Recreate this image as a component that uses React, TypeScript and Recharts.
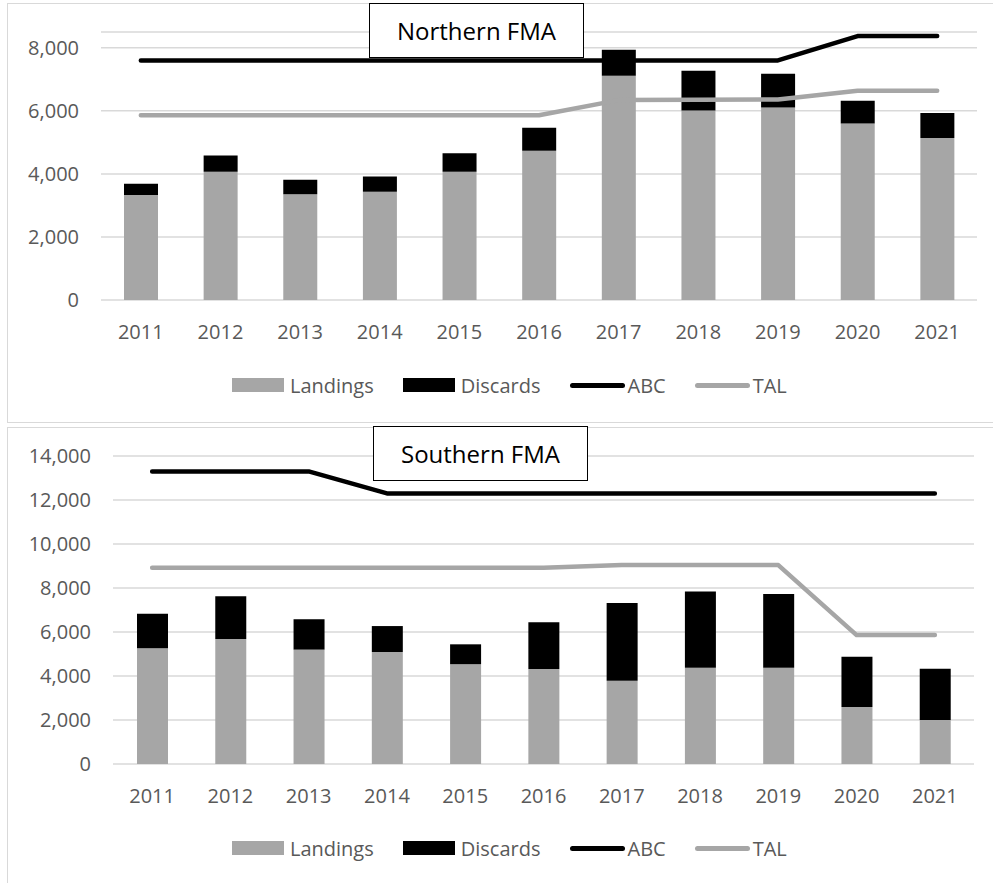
import React from "react";
import {
  Bar,
  CartesianGrid,
  ComposedChart,
  Legend,
  Line,
  XAxis,
  YAxis,
} from "recharts";

const years = ["2011", "2012", "2013", "2014", "2015", "2016", "2017", "2018", "2019", "2020", "2021"];

// Northern FMA
const northLandings = [3330, 4070, 3355, 3430, 4070, 4730, 7110, 6010, 6105, 5600, 5135];
const northDiscards = [360, 510, 455, 485, 585, 730, 825, 1260, 1070, 720, 795];
const northAbc = [7600, 7600, 7600, 7600, 7600, 7600, 7600, 7600, 7600, 8370, 8370];
const northTal = [5860, 5860, 5860, 5860, 5860, 5860, 6340, 6350, 6360, 6640, 6640];
const northTicks = [0, 2000, 4000, 6000, 8000];

// Southern FMA
const southLandings = [5260, 5680, 5200, 5090, 4540, 4320, 3780, 4380, 4370, 2590, 2000];
const southDiscards = [1570, 1950, 1380, 1180, 900, 2120, 3540, 3465, 3355, 2280, 2330];
const southAbc = [13300, 13300, 13300, 12300, 12300, 12300, 12300, 12300, 12300, 12300, 12300];
const southTal = [8920, 8920, 8920, 8920, 8920, 8920, 9040, 9040, 9040, 5860, 5860];
const southTicks = [0, 2000, 4000, 6000, 8000, 10000, 12000, 14000];

const legendOrder = ["Landings", "Discards", "ABC", "TAL"];

const FONT = "'Open Sans', 'Noto Sans', sans-serif";
const TEXT = "#595959";
const GRID = "#D9D9D9";
const GREY = "#A6A6A6";

function buildRows(landings: number[], discards: number[], abc: number[], tal: number[]) {
  return years.map((year, i) => ({
    year,
    landings: landings[i],
    discards: discards[i],
    abc: abc[i],
    tal: tal[i],
  }));
}

// eslint-disable-next-line @typescript-eslint/no-explicit-any
function LegendContent(props: any) {
  // eslint-disable-next-line @typescript-eslint/no-explicit-any
  const items = [...(props.payload ?? [])].sort(
    (a: any, b: any) => legendOrder.indexOf(a.value) - legendOrder.indexOf(b.value),
  );
  return (
    <div
      style={{
        display: "flex",
        alignItems: "center",
        height: 24,
        paddingLeft: 224,
        fontFamily: FONT,
        fontSize: 20,
        color: TEXT,
        whiteSpace: "nowrap",
      }}
    >
      {/* eslint-disable-next-line @typescript-eslint/no-explicit-any */}
      {items.map((entry: any) => (
        <div key={entry.value} style={{ display: "flex", alignItems: "center", marginRight: 29 }}>
          {entry.type === "line" ? (
            <span
              style={{
                display: "inline-block",
                width: 55,
                height: 5,
                borderRadius: 3,
                background: entry.color,
                marginRight: 3,
              }}
            />
          ) : (
            <span
              style={{
                display: "inline-block",
                width: 52,
                height: 14,
                background: entry.color,
                marginRight: 6,
              }}
            />
          )}
          <span>{entry.value}</span>
        </div>
      ))}
    </div>
  );
}

type FmaChartProps = {
  title: string;
  rows: ReturnType<typeof buildRows>;
  ticks: number[];
  yMax: number;
  boxTop: number;
  boxHeight: number;
  yWidth: number;
  marginRight: number;
  marginBottom: number;
  barSize: number;
  legendTop: number;
  titleLeft: number;
  titleTop: number;
};

function FmaChart(p: FmaChartProps) {
  const chartW = 998;
  const chartH = p.boxHeight - 2;
  return (
    <div
      style={{
        position: "absolute",
        left: 7,
        top: p.boxTop,
        width: 1000,
        height: p.boxHeight,
        boxSizing: "border-box",
        border: `1px solid ${GRID}`,
        background: "#fff",
      }}
    >
      <ComposedChart
        width={chartW}
        height={chartH}
        data={p.rows}
        margin={{ top: 28, right: p.marginRight, left: 0, bottom: p.marginBottom }}
      >
        <CartesianGrid vertical={false} stroke={GRID} strokeWidth={1.5} />
        <XAxis
          dataKey="year"
          axisLine={false}
          tickLine={false}
          tickSize={0}
          tickMargin={25}
          height={40}
          interval={0}
          tick={{ fill: TEXT, fontSize: 20, fontFamily: FONT }}
        />
        <YAxis
          domain={[0, p.yMax]}
          ticks={p.ticks}
          allowDataOverflow
          axisLine={false}
          tickLine={false}
          tickSize={0}
          tickMargin={22}
          width={p.yWidth}
          tick={{ fill: TEXT, fontSize: 20, fontFamily: FONT }}
          tickFormatter={(v: number) => v.toLocaleString("en-US")}
        />
        <Bar dataKey="landings" name="Landings" stackId="a" fill={GREY} barSize={p.barSize} legendType="rect" isAnimationActive={false} />
        <Bar dataKey="discards" name="Discards" stackId="a" fill="#000000" barSize={p.barSize} legendType="rect" isAnimationActive={false} />
        <Line
          dataKey="abc"
          name="ABC"
          type="linear"
          stroke="#000000"
          strokeWidth={4.5}
          strokeLinecap="round"
          strokeLinejoin="round"
          dot={false}
          activeDot={false}
          legendType="line"
          isAnimationActive={false}
        />
        <Line
          dataKey="tal"
          name="TAL"
          type="linear"
          stroke={GREY}
          strokeWidth={4.5}
          strokeLinecap="round"
          strokeLinejoin="round"
          dot={false}
          activeDot={false}
          legendType="line"
          isAnimationActive={false}
        />
        <Legend
          layout="horizontal"
          verticalAlign="middle"
          align="center"
          content={<LegendContent />}
          wrapperStyle={{ top: p.legendTop, left: 0, width: chartW }}
        />
      </ComposedChart>
      <div
        style={{
          position: "absolute",
          left: p.titleLeft,
          top: p.titleTop,
          width: 215,
          height: 55,
          boxSizing: "border-box",
          border: "1.5px solid #000",
          background: "#fff",
          display: "flex",
          alignItems: "center",
          justifyContent: "center",
          fontFamily: FONT,
          fontSize: 24,
          color: "#000",
        }}
      >
        {p.title}
      </div>
    </div>
  );
}

export default function App() {
  const north = buildRows(northLandings, northDiscards, northAbc, northTal);
  const south = buildRows(southLandings, southDiscards, southAbc, southTal);
  return (
    <div
      style={{
        position: "absolute",
        left: 0,
        top: 0,
        width: 993,
        height: 883,
        overflow: "hidden",
        background: "#fff",
      }}
    >
      <FmaChart
        title="Northern FMA"
        rows={north}
        ticks={northTicks}
        yMax={8500}
        boxTop={3}
        boxHeight={420}
        yWidth={93}
        marginRight={29}
        marginBottom={82}
        barSize={34}
        legendTop={369}
        titleLeft={361}
        titleTop={-1}
      />
      <FmaChart
        title="Southern FMA"
        rows={south}
        ticks={southTicks}
        yMax={14000}
        boxTop={427}
        boxHeight={470}
        yWidth={105}
        marginRight={32}
        marginBottom={92}
        barSize={31}
        legendTop={408}
        titleLeft={365}
        titleTop={-2}
      />
    </div>
  );
}
